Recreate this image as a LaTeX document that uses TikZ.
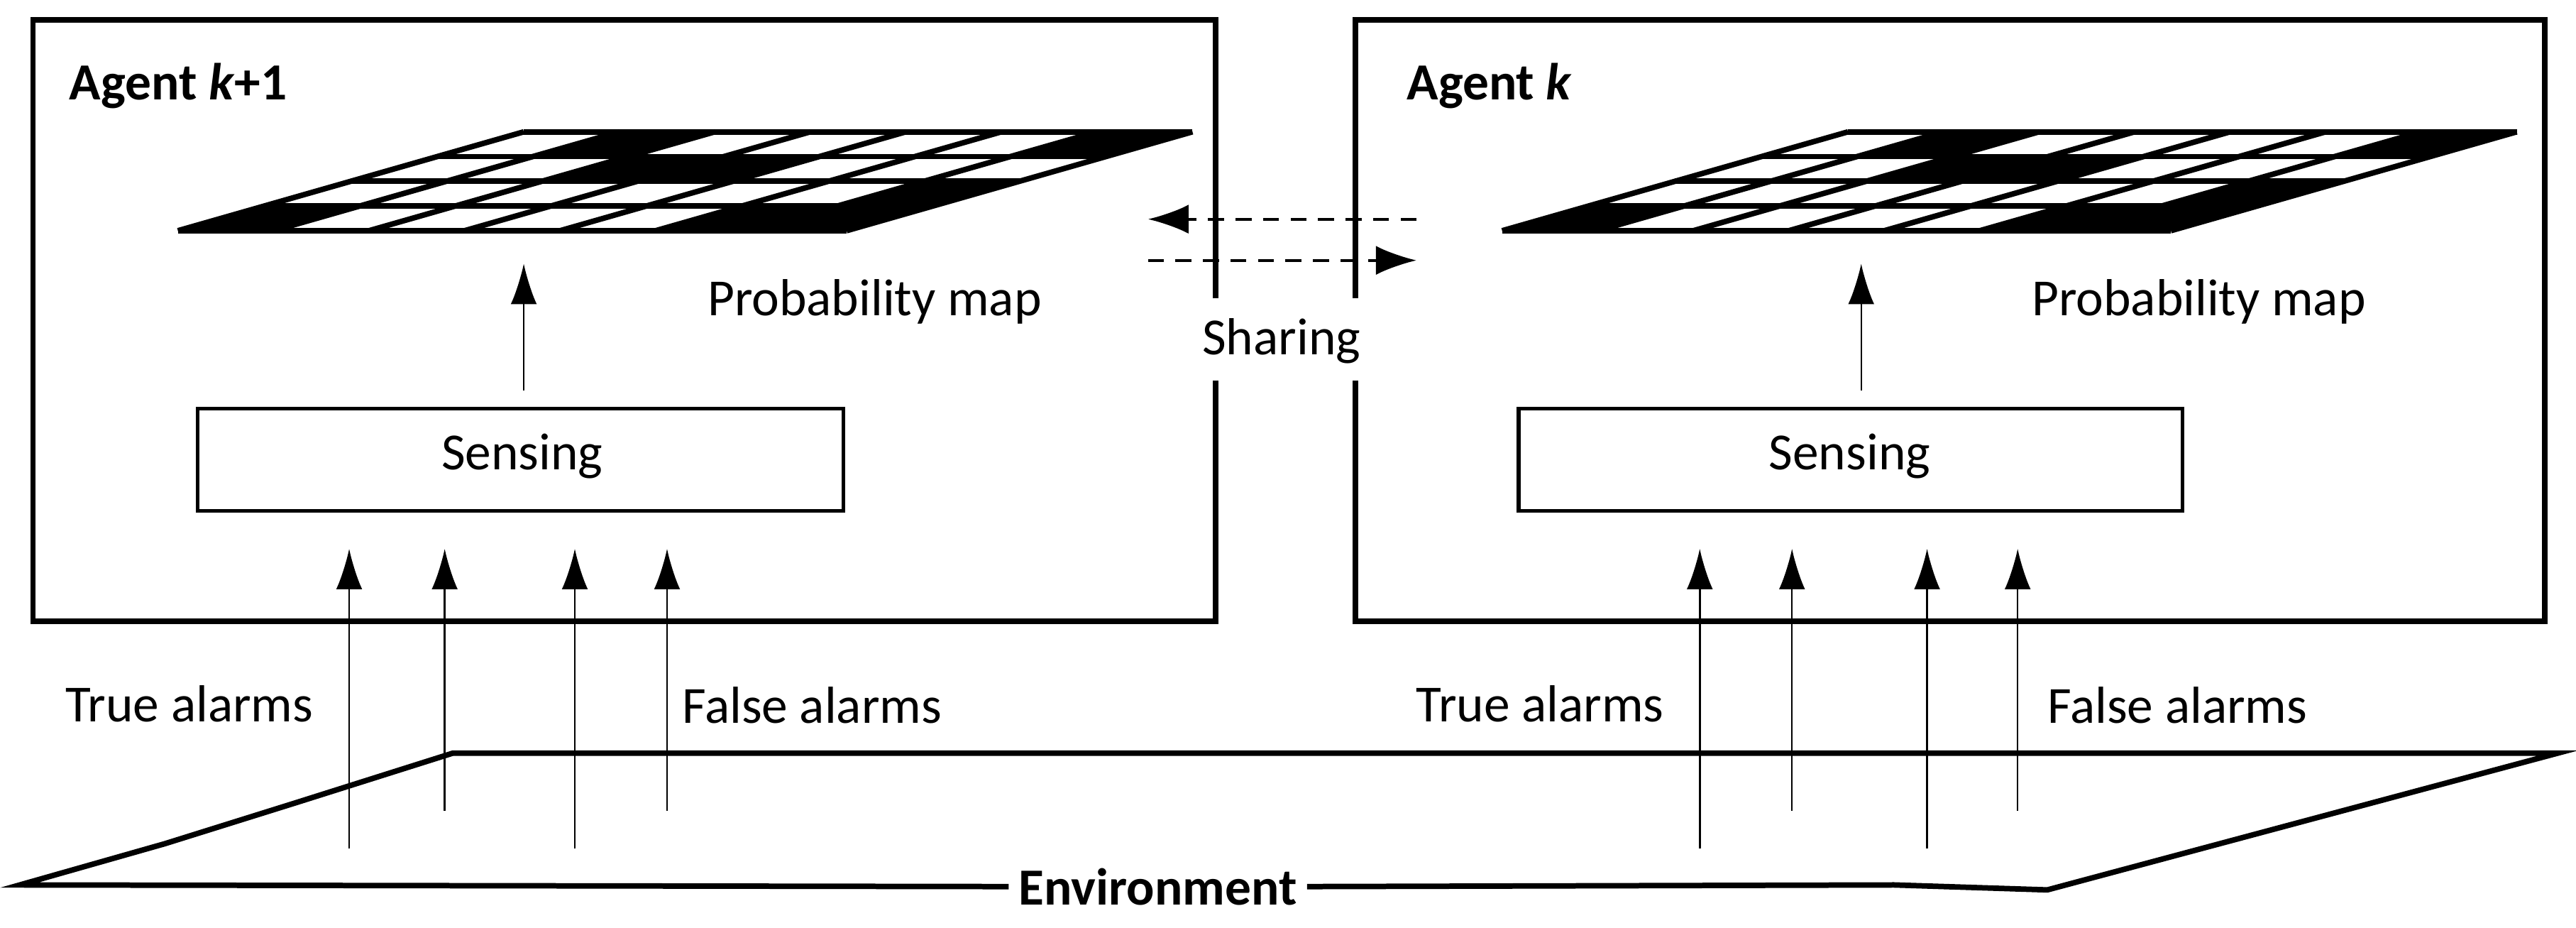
\documentclass[tikz,border=0pt]{standalone}
\usepackage{fontspec}
\setmainfont{Carlito}
\usetikzlibrary{arrows.meta}
\tikzset{
  box/.style={draw, line width=1.9pt},
  cell/.style={line width=1.9pt},
  alarm/.style={-{Latex[length=14pt,width=9pt]}, line width=0.6pt},
  share/.style={-{Latex[length=14pt,width=10pt]}, dash pattern=on 5.5pt off 4pt, line width=0.9pt},
  lbl/.style={font=\fontsize{18pt}{21pt}\selectfont}
}
\begin{document}
\begin{tikzpicture}[x=0.02cm, y=-0.02cm]
  \useasboundingbox (0,0) rectangle (1564,563);

  % the two agents (edges open round the sharing label)
  \draw[box] (738,181) -- (738,12) -- (20,12) -- (20,377) -- (738,377) -- (738,231);
  \draw[box] (823,181) -- (823,12) -- (1545,12) -- (1545,377) -- (823,377) -- (823,231);
  \node[lbl, anchor=west, font=\fontsize{18pt}{21pt}\selectfont\bfseries] (nameA) at (36,52) {Agent \textit{k}+1};
  \node[lbl, anchor=west, font=\fontsize{18pt}{21pt}\selectfont\bfseries] (nameB) at (848,52) {Agent \textit{k}};

  % probability maps
  \foreach \n/\dx in {A/0, B/804}{
    \begin{scope}[shift={(\dx,0)}]
      \foreach \r/\pat in {0/{1,0,0,0,0,1,1}, 1/{0,0,0,0,0,0,1}, 2/{0,0,1,1,0,0,0}, 3/{0,1,0,0,0,0,1}}{
        \foreach \b [count=\c from 0] in \pat{
          \ifnum\b=1
            \fill ({108+\c*58+\r*52.5},{140-\r*15}) -- ++(58,0) -- ++(52.5,-15) -- ++(-58,0) -- cycle;
          \fi
        }
      }
      \foreach \r in {0,...,4}
        \draw[cell] ({108+\r*52.5},{140-\r*15}) -- ++(406,0);
      \foreach \c in {0,...,7}
        \draw[cell] ({108+\c*58},140) -- ++(210,-60);
      \node[lbl] (prob\n) at (531,183) {Probability map};
    \end{scope}
  }

  % sensing
  \draw[box, line width=1.3pt] (120,248) rectangle (512,310);
  \node[lbl] (sensA) at (317,277) {Sensing};
  \draw[box, line width=1.3pt] (922,248) rectangle (1325,310);
  \node[lbl] (sensB) at (1123,277) {Sensing};
  \coordinate (sA) at (318,237);
  \coordinate (mA) at (318,160);
  \coordinate (sB) at (1130,237);
  \coordinate (mB) at (1130,160);
  \draw[alarm] (sA) -- (mA);
  \draw[alarm] (sB) -- (mB);

  % alarms
  \foreach \x/\y in {212/515, 270/492, 349/515, 405/492, 1032/515, 1088/492, 1170/515, 1225/492}{
    \coordinate (lo\x) at (\x,\y);
    \coordinate (hi\x) at (\x,333);
    \draw[alarm] (lo\x) -- (hi\x);
  }
  \node[lbl] (trueA) at (115,427) {True alarms};
  \node[lbl] (falseA) at (493,428) {False alarms};
  \node[lbl] (trueB) at (935,427) {True alarms};
  \node[lbl] (falseB) at (1322,428) {False alarms};

  % environment
  \node[lbl, font=\fontsize{18pt}{21pt}\selectfont\bfseries] (env) at (703,538) {Environment};
  \draw[line width=1.9pt] (env.west) -- (12,537) -- (100,512) -- (180,487) -- (275,457)
    -- (1553,457) -- (1243,540) -- (1150,537) -- (env.east);

  % sharing
  \node[lbl] (shr) at (778,207) {Sharing};
  \coordinate (sh1) at (860,133);
  \coordinate (sh2) at (697,133);
  \coordinate (sh3) at (697,158);
  \coordinate (sh4) at (860,158);
  \draw[share] (sh1) -- (sh2);
  \draw[share] (sh3) -- (sh4);
\end{tikzpicture}
\end{document}
